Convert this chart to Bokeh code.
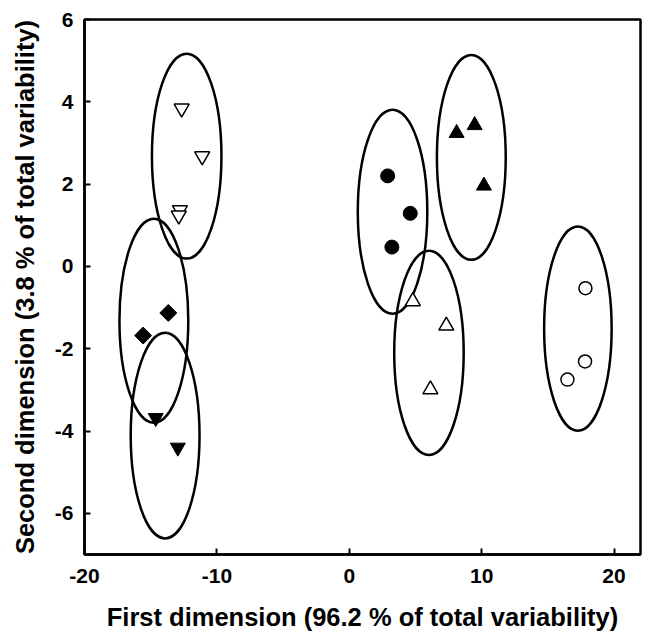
import numpy as np
from bokeh.plotting import figure
from bokeh.models import Range1d, FixedTicker
from bokeh.embed import file_html
from bokeh.resources import INLINE

# Group data (first dimension, second dimension)
open_down_x = [-12.66, -11.11, -12.79, -12.88]
open_down_y = [3.84, 2.68, 1.37, 1.24]

diamond_x = [-13.67, -15.57]
diamond_y = [-1.13, -1.68]

filled_down_x = [-14.62, -12.95]
filled_down_y = [-3.68, -4.40]

filled_circle_x = [2.90, 4.61, 3.22]
filled_circle_y = [2.20, 1.29, 0.47]

filled_up_x = [8.11, 9.47, 10.17]
filled_up_y = [3.24, 3.43, 1.96]

open_up_x = [4.80, 7.33, 6.13]
open_up_y = [-0.85, -1.44, -2.99]

open_circle_x = [17.84, 17.81, 16.48]
open_circle_y = [-0.53, -2.31, -2.75]

# Confidence ellipses
ell_cx = [-12.28, -14.76, -13.91, 3.27, 9.22, 6.02, 17.27]
ell_cy = [2.68, -1.32, -4.11, 1.33, 2.65, -2.10, -1.51]
ell_w = [5.25, 5.2, 5.2, 5.25, 5.2, 5.25, 5.1]
ell_h = [4.98, 4.96, 5.0, 4.96, 4.98, 4.96, 4.96]

x_ticks = [-20, -10, 0, 10, 20]
x_tick_labels = ["-20", "-10", "0", "10", "20"]
y_ticks = [-6, -4, -2, 0, 2, 4, 6]
y_tick_labels = ["-6", "-4", "-2", "0", "2", "4", "6"]

FONT = "Liberation Sans"

p = figure(width=655, height=635, output_backend="svg", toolbar_location=None,
           x_range=Range1d(-20, 22), y_range=Range1d(-7, 6),
           frame_width=556, frame_height=535,
           min_border_left=84, min_border_top=19, min_border_right=15, min_border_bottom=81)

p.grid.visible = False
p.outline_line_color = "black"
p.outline_line_width = 2.5
p.background_fill_color = "white"
p.border_fill_color = "white"

for ax in (p.xaxis[0], p.yaxis[0]):
    ax.axis_line_width = 2.5
    ax.major_tick_line_width = 2
    ax.major_tick_in = 6
    ax.major_tick_out = 0
    ax.minor_tick_line_color = None
    ax.major_label_text_font = FONT
    ax.major_label_text_font_style = "bold"
    ax.major_label_text_font_size = "21px"
    ax.axis_label_text_font = FONT
    ax.axis_label_text_font_style = "bold"
    ax.axis_label_text_font_size = "25.5px"
    ax.major_label_text_color = "black"
    ax.axis_label_text_color = "black"

p.xaxis.ticker = FixedTicker(ticks=x_ticks)
p.yaxis.ticker = FixedTicker(ticks=y_ticks)
p.xaxis.major_label_overrides = {t: l for t, l in zip(x_ticks, x_tick_labels)}
p.yaxis.major_label_overrides = {t: l for t, l in zip(y_ticks, y_tick_labels)}
p.xaxis.axis_label = "First dimension (96.2 % of total variability)"
p.yaxis.axis_label = "Second dimension (3.8 % of total variability)"
p.xaxis.major_label_standoff = 14
p.yaxis.major_label_standoff = 11
p.xaxis.axis_label_standoff = 17
p.yaxis.axis_label_standoff = 13

p.ellipse(x=ell_cx, y=ell_cy, width=ell_w, height=ell_h,
          fill_color=None, line_color="black", line_width=2.5)

p.scatter(open_down_x, open_down_y, marker="inverted_triangle", size=15,
          fill_color="white", line_color="black", line_width=1.5)
p.scatter(diamond_x, diamond_y, marker="square", angle=np.pi / 4, size=12,
          fill_color="black", line_color="black")
p.scatter(filled_down_x, filled_down_y, marker="inverted_triangle", size=15,
          fill_color="black", line_color="black")
p.scatter(filled_circle_x, filled_circle_y, marker="circle", size=14,
          fill_color="black", line_color="black")
p.scatter(filled_up_x, filled_up_y, marker="triangle", size=15,
          fill_color="black", line_color="black")
p.scatter(open_up_x, open_up_y, marker="triangle", size=15,
          fill_color="white", line_color="black", line_width=1.5)
p.scatter(open_circle_x, open_circle_y, marker="circle", size=13,
          fill_color="white", line_color="black", line_width=1.5)

open("out.html", "w").write(file_html(p, INLINE))
